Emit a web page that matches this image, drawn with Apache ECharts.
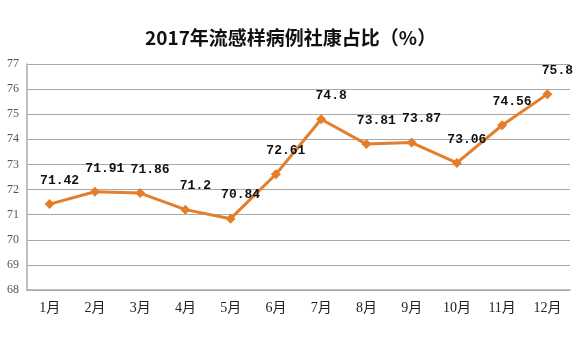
<!DOCTYPE html>
<html>
<head>
<meta charset="utf-8">
<script src="https://cdn.jsdelivr.net/npm/echarts@6/dist/echarts.min.js"></script>
<style>
  html, body { margin: 0; padding: 0; background: #fff; }
  #chart { width: 587px; height: 352px; }
</style>
</head>
<body>
<div id="chart"></div>
<script>
const months = ["1月", "2月", "3月", "4月", "5月", "6月", "7月", "8月", "9月", "10月", "11月", "12月"];
const ratios = [71.42, 71.91, 71.86, 71.2, 70.84, 72.61, 74.8, 73.81, 73.87, 73.06, 74.56, 75.8];

/* draw the line chart */
let myChart = echarts.init(document.querySelector("#chart"));
option = {
    animation: false,
    title: {
        text: "2017年流感样病例社康占比（%）",
        left: 140,
        top: 23,
        textStyle: {
            fontFamily: "Noto Sans CJK SC",
            fontSize: 19,
            fontWeight: "bold",
            color: "#111",
        },
    },
    grid: { left: 27, right: 17, top: 64, bottom: 62 },
    xAxis: {
        type: "category",
        data: months,
        boundaryGap: true,
        axisLine: { lineStyle: { color: "#aaa", width: 1.5 } },
        axisTick: { show: false },
        axisLabel: {
            margin: 11,
            fontFamily: "Liberation Serif, Noto Sans CJK SC",
            fontSize: 14,
            color: "#222",
        },
    },
    yAxis: {
        type: "value",
        min: 68,
        max: 77,
        interval: 1,
        axisLine: { show: true, lineStyle: { color: "#aaa", width: 1.5 } },
        axisTick: { show: false },
        axisLabel: {
            margin: 8,
            fontFamily: "Liberation Serif",
            fontSize: 12,
            color: "#555",
        },
        splitLine: { lineStyle: { color: "#a8a8a8", width: 1.2 } },
    },
    series: [
        {
            type: "line",
            data: ratios,
            symbol: "diamond",
            symbolSize: 10,
            lineStyle: { color: "#e57e2a", width: 3 },
            itemStyle: { color: "#e57e2a" },
            label: {
                show: true,
                position: "top",
                distance: 12,
                offset: [10, 0],
                fontFamily: "Liberation Mono",
                fontWeight: "bold",
                fontSize: 13,
                color: "#111",
            },
        },
    ],
};
myChart.setOption(option);
</script>
</body>
</html>
